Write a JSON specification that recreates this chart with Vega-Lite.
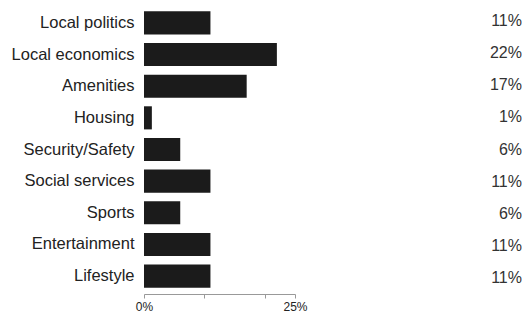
{
  "$schema": "https://vega.github.io/schema/vega-lite/v6.json",
  "padding": {"left": 11, "top": 5, "right": 0, "bottom": 2},
  "background": "white",
  "data": {"values": [
    {"category": "Local politics", "pct": 11, "label": "11%"},
    {"category": "Local economics", "pct": 22, "label": "22%"},
    {"category": "Amenities", "pct": 17, "label": "17%"},
    {"category": "Housing", "pct": 1.3, "label": "1%"},
    {"category": "Security/Safety", "pct": 6, "label": "6%"},
    {"category": "Social services", "pct": 11, "label": "11%"},
    {"category": "Sports", "pct": 6, "label": "6%"},
    {"category": "Entertainment", "pct": 11, "label": "11%"},
    {"category": "Lifestyle", "pct": 11, "label": "11%"}
  ]},
  "config": {"view": {"stroke": null}, "font": "Liberation Sans", "concat": {"spacing": 0}},
  "hconcat": [
    {
      "width": 151,
      "height": 289,
      "mark": {"type": "bar", "color": "#1b1b1b"},
      "encoding": {
        "y": {"field": "category", "type": "nominal", "sort": null,
          "scale": {"paddingInner": 0.27, "paddingOuter": 0.2},
          "axis": {"title": null, "domain": false, "ticks": false, "labelPadding": 10, "labelFontSize": 16.5, "labelColor": "#222", "labelFont": "Liberation Sans"}},
        "x": {"field": "pct", "type": "quantitative",
          "scale": {"domain": [0, 25], "nice": false},
          "axis": {"title": null, "grid": false, "values": [0, 10, 20, 25], "labelExpr": "datum.value == 0 || datum.value == 25 ? datum.value + '%' : ''", "tickSize": 4, "tickColor": "#999", "domainColor": "#999", "labelFontSize": 12, "labelColor": "#222", "labelFlush": false, "labelPadding": 3}}
      }
    },
    {
      "width": 214,
      "height": 289,
      "mark": {"type": "text", "align": "right", "baseline": "middle", "fontSize": 16, "color": "#333", "font": "Liberation Sans"},
      "encoding": {
        "y": {"field": "category", "type": "nominal", "sort": null,
          "scale": {"paddingInner": 0.27, "paddingOuter": 0.2}, "axis": null},
        "x": {"value": 214},
        "text": {"field": "label", "type": "nominal"}
      }
    }
  ]
}
